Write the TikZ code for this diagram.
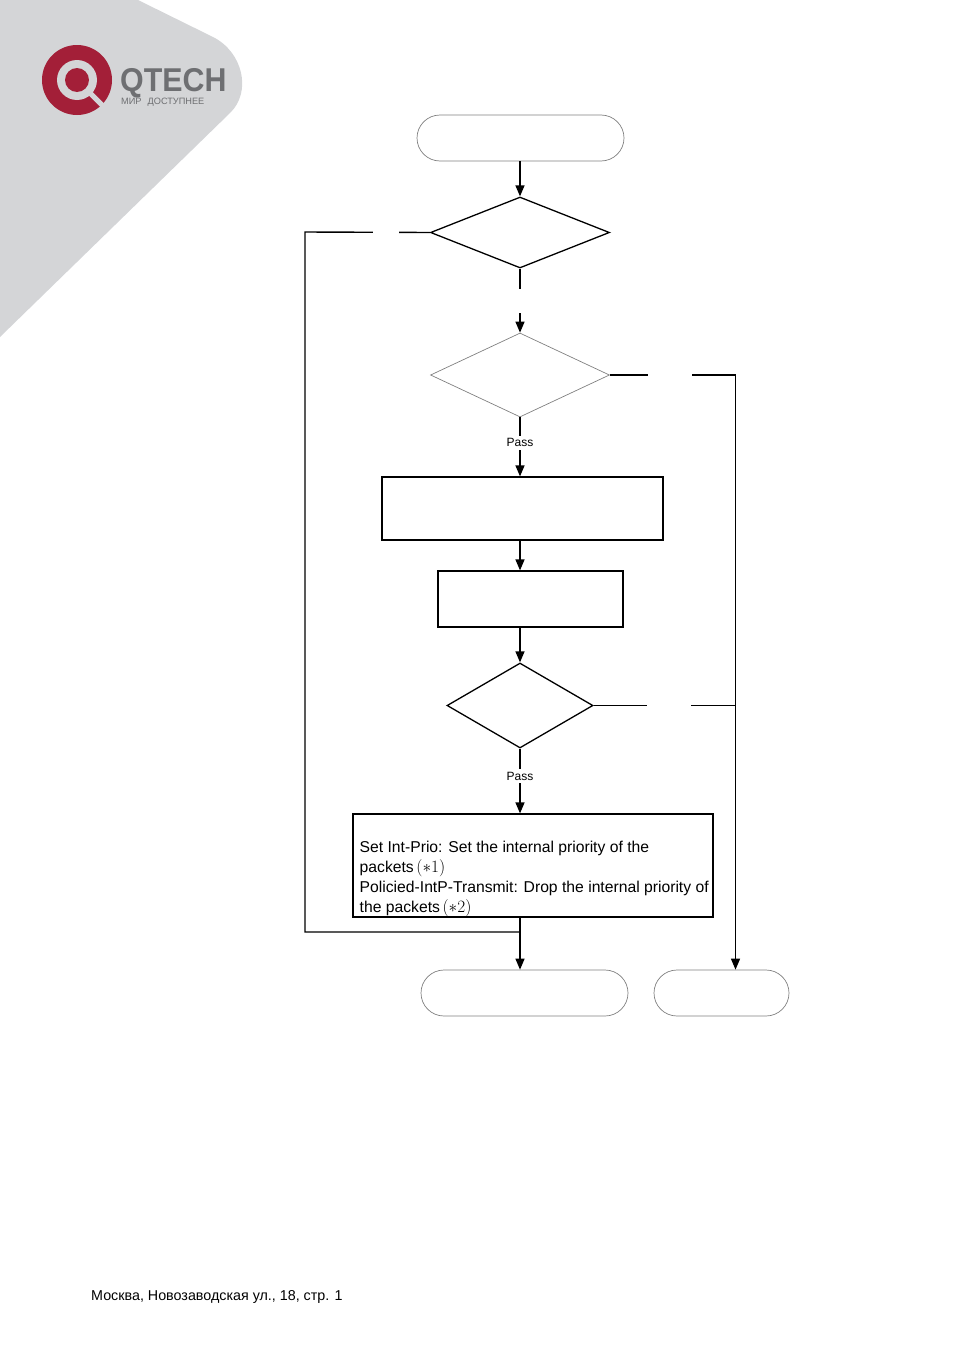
\documentclass[tikz,border=0pt]{standalone}
\usepackage{fontspec}
\setmainfont{Liberation Sans}
\usetikzlibrary{shapes.geometric,arrows.meta}
\definecolor{logogray}{HTML}{D4D5D7}
\definecolor{logored}{HTML}{A31F38}
\definecolor{logotext}{HTML}{6E6F72}
\definecolor{edgegray}{HTML}{808080}
\tikzset{
    flow/.style={line width=1.3pt, -{Triangle[length=11pt,width=9pt]}},
    link/.style={line width=1.4pt},
    term/.style={draw=edgegray, line width=0.7pt, rounded corners=23pt, minimum height=46pt, inner sep=0pt},
    check/.style={diamond, draw, line width=1.3pt, inner sep=0pt},
    procbox/.style={draw, line width=1.2pt, inner sep=0pt},
    gapbox/.style={fill=white, inner sep=0pt, minimum height=4pt},
    passlbl/.style={fill=white, inner sep=3pt, font=\fontsize{12}{14}\selectfont}
}
\newcommand{\starnote}[1]{{\fontsize{17.5}{20}\selectfont$(\ast#1)$}}
\begin{document}
\begin{tikzpicture}[x=1pt, y=-1pt]
    \useasboundingbox (0,0) rectangle (954,1349);
    % logo
    \fill[logogray] (0,0) -- (138,0) -- (213,37) .. controls (243,52) and (252,92) .. (230,113) -- (0,337) -- cycle;
    \fill[logored] (77,80) circle (35);
    \fill[logogray] (77,80) circle (20);
    \fill[logored] (77,80) circle (12);
    \draw[logogray, line width=5pt] (90,93) -- (110,113);
    \node[anchor=base west, inner sep=0pt, xscale=0.92, transform shape, text=logotext, font=\fontsize{33}{33}\selectfont\bfseries] (brand) at (120,91) {QTECH};
    \node[anchor=base west, inner sep=0pt, text=logotext, font=\fontsize{9.2}{9}\selectfont] (motto) at (121,104) {МИР\hspace{6pt}ДОСТУПНЕЕ};
    % flow nodes
    \node[term, minimum width=207pt] (start) at (520.5,138) {};
    \node[check, minimum width=179pt, minimum height=71pt] (chk1) at (520,232.5) {};
    \node[check, draw=edgegray, line width=0.7pt, minimum width=179pt, minimum height=84pt] (chk2) at (520,375) {};
    \node[procbox, minimum width=281pt, minimum height=63pt] (proc1) at (522.5,508.5) {};
    \node[procbox, minimum width=185pt, minimum height=56pt] (proc2) at (530.5,599) {};
    \node[check, minimum width=146pt, minimum height=85pt] (chk3) at (520,705.5) {};
    \node[procbox, minimum width=360pt, minimum height=103pt] (act) at (533,865.5) {};
    \node[anchor=north west, inner sep=0pt, align=left, font=\fontsize{15.7}{20}\selectfont] (acttext) at (359.5,841) {Set Int-Prio: Set the internal priority of the\\packets\,\starnote{1}\\Policied-IntP-Transmit: Drop the internal priority of\\the packets\,\starnote{2}};
    \node[term, minimum width=207pt] (done1) at (524.5,993) {};
    \node[term, minimum width=135pt] (done2) at (721.5,993) {};
    \coordinate (loopTop) at (305,232);
    \coordinate (loopBot) at (305,932);
    \coordinate (rtTop) at (735.5,375);
    % connectors
    \draw[flow] (start.south -| chk1.north) -- (chk1.north);
    \draw[flow] (chk1.south) -- node[gapbox, minimum width=4pt, minimum height=24pt]{} (chk2.north);
    \draw[link] (chk1.west) -- node[pos=0.35, gapbox, minimum width=26pt]{} (loopTop) -- (loopBot) -- (loopBot -| chk3.south);
    \draw[flow] (chk2.south) -- node[pos=0.43, passlbl]{Pass} (chk2.south |- proc1.north);
    \draw[flow] (chk2.south |- proc1.south) -- (chk2.south |- proc2.north);
    \draw[flow] (chk2.south |- proc2.south) -- (chk3.north);
    \draw[flow] (chk3.south) -- node[pos=0.425, passlbl]{Pass} (chk3.south |- act.north);
    \draw[flow] (chk3.south |- act.south) -- (chk3.south |- done1.north);
    \draw[link] (chk2.east) -- node[pos=0.48, gapbox, minimum width=44pt]{} (rtTop);
    \draw[flow] (rtTop) -- (rtTop |- done2.north);
    \draw[link] (chk3.east) -- node[pos=0.53, gapbox, minimum width=44pt]{} (chk3.east -| rtTop);
    % footer
    \node[anchor=base west, inner sep=0pt, font=\fontsize{14.3}{17}\selectfont] (addr) at (91,1300) {Москва, Новозаводская ул., 18, стр. 1};
\end{tikzpicture}
\end{document}
